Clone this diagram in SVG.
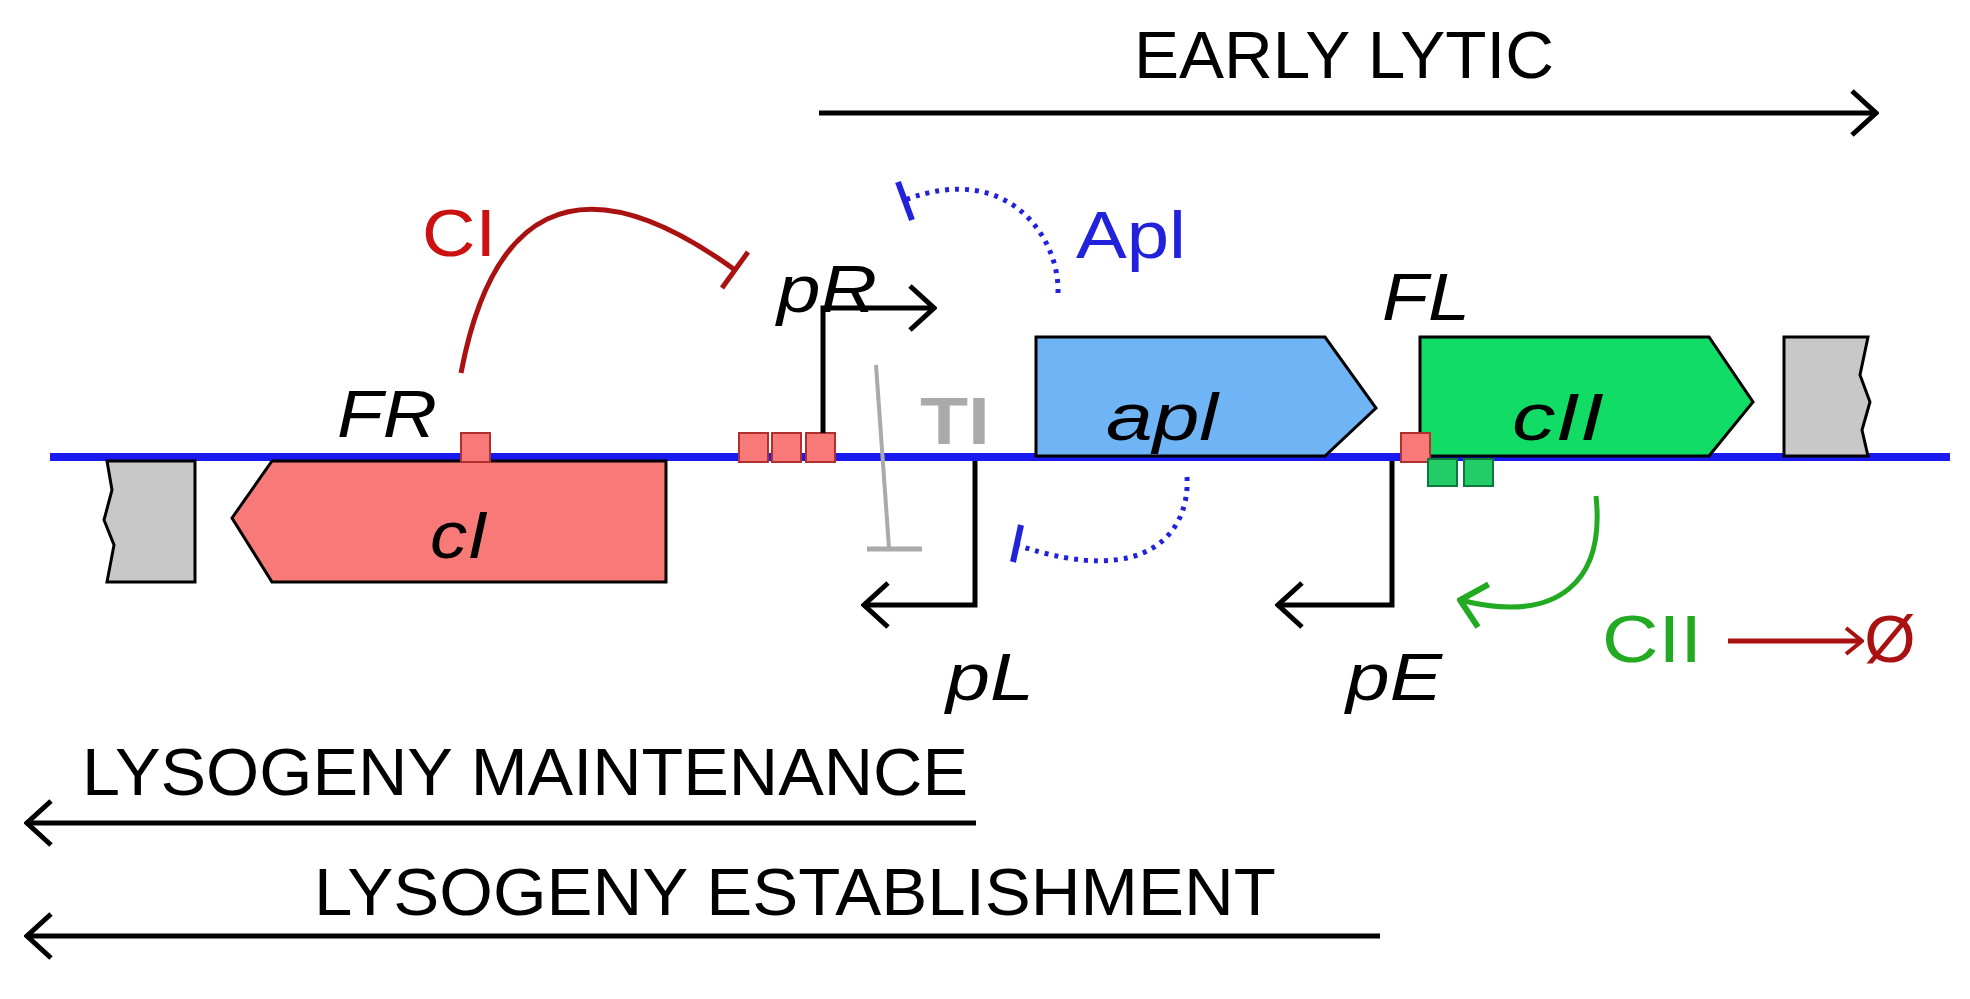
<svg xmlns="http://www.w3.org/2000/svg" width="1970" height="999" viewBox="0 0 1970 999">
<style>
text{font-family:"Liberation Sans",Arial,sans-serif;}
.lbl{font-size:66px;fill:#000}
.it{font-style:italic}
.blk{fill:none;stroke:#000;stroke-width:5}
.sq{fill:#f77a78;stroke:#b03030;stroke-width:2}
.gsq{fill:#22cc66;stroke:#0a7a3a;stroke-width:2}
.gene{stroke:#000;stroke-width:3}
</style>
<defs>
<marker id="ah" viewBox="0 0 30 50" refX="27" refY="25" markerWidth="30" markerHeight="50" markerUnits="userSpaceOnUse" orient="auto"><path d="M3,3 L27,25 L3,47" fill="none" stroke="#000" stroke-width="5"/></marker>
<marker id="ahr" viewBox="0 0 20 30" refX="18" refY="15" markerWidth="20" markerHeight="30" markerUnits="userSpaceOnUse" orient="auto"><path d="M2,2 L18,15 L2,28" fill="none" stroke="#aa1111" stroke-width="4"/></marker>
<marker id="ahg" viewBox="0 0 30 50" refX="27" refY="25" markerWidth="30" markerHeight="50" markerUnits="userSpaceOnUse" orient="auto"><path d="M3,3 L27,25 L3,47" fill="none" stroke="#22aa22" stroke-width="6"/></marker>
</defs>
<rect width="1970" height="999" fill="#fff"/>
<g id="dna"><line x1="50" y1="457" x2="1950" y2="457" stroke="#1a1aee" stroke-width="8"/></g>
<g id="grayL"><path d="M107,461 H195 V582 H107 L114,545 L104,520 L112,490 Z" fill="#c8c8c8" stroke="#000" stroke-width="3"/></g>
<g id="grayR"><path d="M1784,337 H1868 L1860,375 L1870,402 L1862,430 L1868,456 H1784 Z" fill="#c8c8c8" stroke="#000" stroke-width="3"/></g>
<g id="cI"><path class="gene" d="M232,518 L272,461 H666 V582 H272 Z" fill="#f77a78"/><text class="lbl it" x="459" y="558" text-anchor="middle" font-size="84" textLength="58" lengthAdjust="spacingAndGlyphs">cI</text></g>
<g id="apl"><path class="gene" d="M1036,337 H1325 L1376,408 L1325,456 H1036 Z" fill="#6fb5f5"/><text class="lbl it" x="1162" y="440" text-anchor="middle" font-size="84" textLength="112" lengthAdjust="spacingAndGlyphs">apl</text></g>
<g id="cII"><path class="gene" d="M1420,337 H1709 L1753,402 L1709,456 H1420 Z" fill="#11dd66"/><text class="lbl it" x="1558" y="440" text-anchor="middle" font-size="84" textLength="92" lengthAdjust="spacingAndGlyphs">cII</text></g>
<g id="sites">
<rect class="sq" x="461" y="433" width="29" height="29"/>
<rect class="sq" x="739" y="433" width="29" height="29"/>
<rect class="sq" x="772" y="433" width="29" height="29"/>
<rect class="sq" x="806" y="433" width="29" height="29"/>
<rect class="sq" x="1401" y="433" width="29" height="29"/>
<rect class="gsq" x="1428" y="459" width="29" height="27"/>
<rect class="gsq" x="1464" y="459" width="29" height="27"/>
</g>
<g id="labels">
<text class="lbl it" x="387" y="437" text-anchor="middle" textLength="100" lengthAdjust="spacingAndGlyphs">FR</text>
<text class="lbl it" x="827" y="312" text-anchor="middle" textLength="100" lengthAdjust="spacingAndGlyphs">pR</text>
<text class="lbl it" x="1426" y="320" text-anchor="middle" textLength="88" lengthAdjust="spacingAndGlyphs">FL</text>
<text class="lbl it" x="990" y="700" text-anchor="middle" textLength="88" lengthAdjust="spacingAndGlyphs">pL</text>
<text class="lbl it" x="1394" y="700" text-anchor="middle" textLength="96" lengthAdjust="spacingAndGlyphs">pE</text>
<text class="lbl" x="459" y="256" text-anchor="middle" style="fill:#cc1111" textLength="74" lengthAdjust="spacingAndGlyphs">CI</text>
<text class="lbl" x="1131" y="258" text-anchor="middle" style="fill:#2222dd" textLength="110" lengthAdjust="spacingAndGlyphs">Apl</text>
<text class="lbl" x="1652" y="662" text-anchor="middle" style="fill:#22aa22" textLength="100" lengthAdjust="spacingAndGlyphs">CII</text>
<text class="lbl" x="1890" y="662" text-anchor="middle" style="fill:#aa1111" font-size="60">Ø</text>
<text x="955" y="444" text-anchor="middle" font-size="66" font-weight="bold" fill="#aaaaaa" textLength="70" lengthAdjust="spacingAndGlyphs">TI</text>
<text class="lbl" x="1344" y="78" text-anchor="middle" textLength="420" lengthAdjust="spacingAndGlyphs">EARLY LYTIC</text>
<text class="lbl" x="82" y="795" textLength="886" lengthAdjust="spacingAndGlyphs">LYSOGENY MAINTENANCE</text>
<text class="lbl" x="314" y="915" textLength="962" lengthAdjust="spacingAndGlyphs">LYSOGENY ESTABLISHMENT</text>
</g>
<g id="connectors">
<line class="blk" x1="819" y1="113" x2="1876" y2="113" marker-end="url(#ah)"/>
<line class="blk" x1="976" y1="823" x2="27" y2="823" marker-end="url(#ah)"/>
<line class="blk" x1="1380" y1="936" x2="27" y2="936" marker-end="url(#ah)"/>
<path class="blk" d="M823,433 V308 H934" marker-end="url(#ah)"/>
<path class="blk" d="M975,461 V605 H864" marker-end="url(#ah)"/>
<path class="blk" d="M1392,461 V605 H1278" marker-end="url(#ah)"/>
<path d="M461,373 C490,220 570,150 735,270" fill="none" stroke="#aa1111" stroke-width="5"/>
<line x1="722" y1="288" x2="748" y2="252" stroke="#aa1111" stroke-width="5"/>
<path d="M1058,293 C1060,240 1010,160 905,200" fill="none" stroke="#2222dd" stroke-width="5" stroke-dasharray="4,6"/>
<line x1="898" y1="182" x2="912" y2="220" stroke="#2222dd" stroke-width="6"/>
<path d="M1187,477 C1190,530 1150,590 1017,545" fill="none" stroke="#2222dd" stroke-width="5" stroke-dasharray="4,6"/>
<line x1="1021" y1="525" x2="1013" y2="562" stroke="#2222dd" stroke-width="6"/>
<line x1="876" y1="365" x2="889" y2="548" stroke="#aaaaaa" stroke-width="4"/>
<line x1="867" y1="549" x2="922" y2="549" stroke="#aaaaaa" stroke-width="5"/>
<path d="M1596,496 C1605,580 1560,625 1460,600" fill="none" stroke="#22aa22" stroke-width="5" marker-end="url(#ahg)"/>
<line x1="1728" y1="641" x2="1862" y2="641" stroke="#aa1111" stroke-width="5" marker-end="url(#ahr)"/>
</g>
</svg>
